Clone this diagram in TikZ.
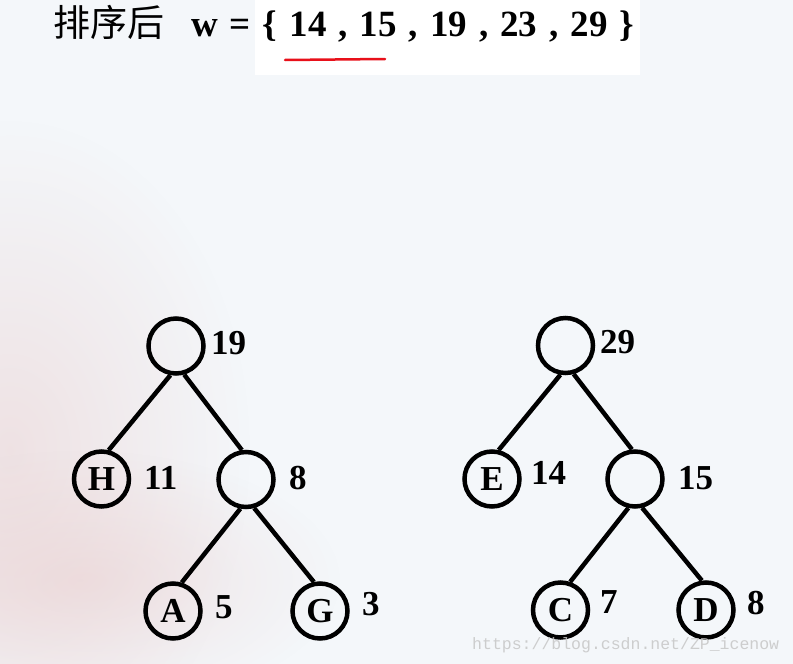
\documentclass[tikz,border=0pt]{standalone}
\usepackage{fontspec}
\usetikzlibrary{fadings}
\setmainfont{Liberation Serif}
\newfontfamily\cjk{Noto Sans CJK SC}
\newfontfamily\wmfont{Liberation Mono}
\definecolor{bgc}{HTML}{F4F7FA}
\definecolor{pinkc}{HTML}{E8C8C8}
\definecolor{ulred}{HTML}{E8101A}
\tikzfading[name=blobfade, inner color=transparent!0, outer color=transparent!100]
\begin{document}
\begin{tikzpicture}[x=1pt,y=-1pt,
  nd/.style={circle,draw=black,line width=4.5pt,minimum size=55pt,inner sep=0pt,
    font=\fontsize{35}{35}\selectfont\bfseries},
  wt/.style={anchor=west,inner sep=0pt,font=\fontsize{35}{35}\selectfont\bfseries},
  link/.style={line width=4.5pt}]
\useasboundingbox (0,0) rectangle (793,664);
% background
\begin{scope}
\clip (0,0) rectangle (793,664);
\fill[bgc] (0,0) rectangle (793,664);
\fill[pinkc, path fading=blobfade, fill opacity=0.45] (10,450) ellipse (240 and 330);
\fill[pinkc, path fading=blobfade, fill opacity=0.45] (80,580) ellipse (260 and 130);
\fill[white] (255,0) rectangle (640,75);
\end{scope}
% title
\node[anchor=base west,inner sep=0pt,font=\cjk\fontsize{37}{37}\selectfont] (t1) at (53,36) {排序后};
\node[anchor=base west,inner sep=0pt,font=\fontsize{37}{37}\selectfont\bfseries] (t2) at (191,36)
  {\spaceskip=12pt w = \{ 14 , 15 , 19 , 23 , 29 \}};
\coordinate (u1) at (285,60);
\coordinate (u2) at (385,59);
\draw[ulred,line width=2.5pt,line cap=round] (u1) -- (u2);
% left tree
\node[nd] (lr) at (176,346) {};
\node[nd] (lh) at (101.5,479) {H};
\node[nd] (l8) at (246,479.5) {};
\node[nd] (la) at (173,611) {A};
\node[nd] (lg) at (320,611) {G};
\draw[link] (lr.259) -- (lh.76);
\draw[link] (lr.286) -- (l8.98);
\draw[link] (l8.259) -- (la.73);
\draw[link] (l8.286) -- (lg.102);
\node[wt] (w19) at (211,343) {19};
\node[wt] (w11) at (144,478) {11};
\node[wt] (w8a) at (289,478) {8};
\node[wt] (w5) at (215,607) {5};
\node[wt] (w3) at (362,604) {3};
% right tree
\node[nd] (rr) at (565.5,345.5) {};
\node[nd] (re) at (492,479) {E};
\node[nd] (r15) at (635,479) {};
\node[nd] (rc) at (560.5,610) {C};
\node[nd] (rd) at (706,610) {D};
\draw[link] (rr.260) -- (re.77);
\draw[link] (rr.286) -- (r15.96);
\draw[link] (r15.257) -- (rc.71);
\draw[link] (r15.284) -- (rd.98);
\node[wt] (w29) at (600,342) {29};
\node[wt] (w14) at (531,473) {14};
\node[wt] (w15) at (678,478) {15};
\node[wt] (w7) at (600,602) {7};
\node[wt] (w8b) at (747,603) {8};
% watermark
\node[anchor=west,inner sep=0pt,font=\wmfont\fontsize{16.5}{16.5}\selectfont,text=gray!45,text opacity=0.85] (wm) at (472,645) {https://blog.csdn.net/ZP\_icenow};
\end{tikzpicture}
\end{document}
